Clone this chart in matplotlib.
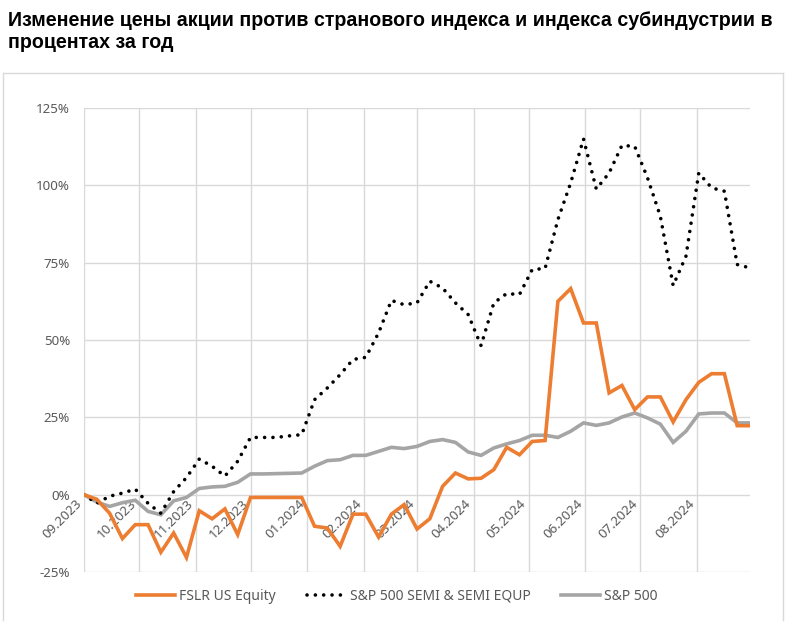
import numpy as np
import pandas as pd
import matplotlib
matplotlib.use("Agg")
import matplotlib.pyplot as plt
from matplotlib.ticker import FuncFormatter
from matplotlib.lines import Line2D

plt.rcParams['font.family'] = ['Noto Sans', 'DejaVu Sans']

# weekly closes, % change from 01.09.2023
dates = pd.date_range('2023-09-01', periods=53, freq='W-FRI')

fslr = [0, -1.5, -6.0, -14.2, -9.7, -9.7, -18.6, -12.4, -20.3, -5.2, -7.8, -4.6, -12.9,
        -0.9, -0.9, -0.9, -0.9, -0.9, -10.2, -10.8, -16.7, -6.3, -6.3, -13.7, -6.3, -3.2,
        -11.1, -7.8, 2.7, 7.0, 5.1, 5.3, 8.1, 15.3, 12.9, 17.2, 17.5, 62.5, 66.6, 55.5,
        55.5, 32.9, 35.3, 27.5, 31.6, 31.6, 23.5, 30.7, 36.3, 39.1, 39.1, 22.3, 22.3]

semi = [0, -2.8, -0.5, 0.5, 1.8, -2.8, -6.0, 1.0, 5.5, 11.5, 9.2, 6.0, 10.8,
        18.5, 18.5, 18.5, 19.0, 19.4, 30.7, 34.5, 38.8, 43.7, 44.4, 52.3, 62.8, 61.4,
        62.0, 69.0, 66.8, 62.0, 58.2, 48.2, 62.0, 65.0, 64.7, 72.8, 73.1, 88.9, 100.8, 115.0,
        98.8, 104.0, 112.9, 112.6, 102.4, 90.0, 67.6, 77.1, 104.0, 99.2, 98.1, 74.4, 73.3]

spx = [0, -2.4, -3.8, -2.6, -1.8, -5.4, -6.5, -2.0, -0.9, 2.0, 2.5, 2.7, 4.0,
       6.7, 6.7, 6.8, 6.9, 7.0, 9.2, 11.0, 11.3, 12.7, 12.7, 14.0, 15.3, 14.9,
       15.6, 17.2, 17.8, 16.9, 13.8, 12.7, 15.1, 16.4, 17.5, 19.2, 19.2, 18.5, 20.5, 23.2,
       22.4, 23.2, 25.1, 26.4, 24.8, 22.8, 16.9, 20.5, 26.1, 26.4, 26.4, 23.2, 23.2]

names = ['FSLR US Equity', 'S&P 500 SEMI & SEMI EQUP', 'S&P 500']
title = ('Изменение цены акции против странового индекса и индекса субиндустрии в\n'
         'процентах за год')

fig = plt.figure(figsize=(7.94, 6.40), dpi=100)
ax = fig.add_axes([84/794, 1-572/640, 666/794, 464/640])

ax.plot(dates, spx, color='#A5A5A5', lw=2.6, solid_joinstyle='miter', zorder=3)
ax.plot(dates, semi, color='black', lw=2.6, dashes=[0.01, 2.3],
        dash_capstyle='round', zorder=4)
ax.plot(dates, fslr, color='#ED7D31', lw=2.6, solid_joinstyle='miter', zorder=5)

ax.set_ylim(-25, 125)
ax.set_yticks(np.arange(-25, 126, 25))
ax.yaxis.set_major_formatter(FuncFormatter(lambda v, p: f'{v:.0f}%'))
ax.set_xlim(dates[0], dates[-1])

months = pd.date_range('2023-09-01', '2024-08-01', freq='MS')
ax.set_xticks(months)
ax.set_xticklabels([m.strftime('%m.%Y') for m in months])
ax.spines['bottom'].set_position(('data', 0))
for s in ax.spines.values():
    s.set_visible(False)

ax.grid(True, color='#D9D9D9', lw=1.0)
ax.set_axisbelow(True)
ax.tick_params(axis='both', length=0, colors='#595959', labelsize=9.6)
ax.tick_params(axis='y', pad=10)
ax.tick_params(axis='x', pad=2)
for lab in ax.get_xticklabels():
    lab.set_rotation(45)
    lab.set_ha('right')
    lab.set_va('top')

# chart frame
for xs, ys in [([3/794, 3/794], [1-620/640, 1-73/640]),
               ([3/794, 783/794], [1-73/640, 1-73/640]),
               ([783/794, 783/794], [1-73/640, 1-620/640])]:
    fig.add_artist(Line2D(xs, ys, color='#D9D9D9', lw=1.0, transform=fig.transFigure))

fig.text(8/794, 1-11/640, title, fontsize=14.1, fontweight='bold', va='top', ha='left',
         family=['Liberation Sans', 'DejaVu Sans'], linespacing=1.2, color='black')

handles = [Line2D([], [], color='#ED7D31', lw=2.6),
           Line2D([], [], color='black', lw=2.6, dashes=[0.01, 2.3], dash_capstyle='round'),
           Line2D([], [], color='#A5A5A5', lw=2.6)]
fig.legend(handles, names, loc='center', bbox_to_anchor=(0.5, 1-596/640), ncol=3,
           frameon=False, fontsize=10, labelcolor='#595959', handlelength=2.8,
           handletextpad=0.3, columnspacing=2.2)

fig.savefig('out.png', dpi=100)
